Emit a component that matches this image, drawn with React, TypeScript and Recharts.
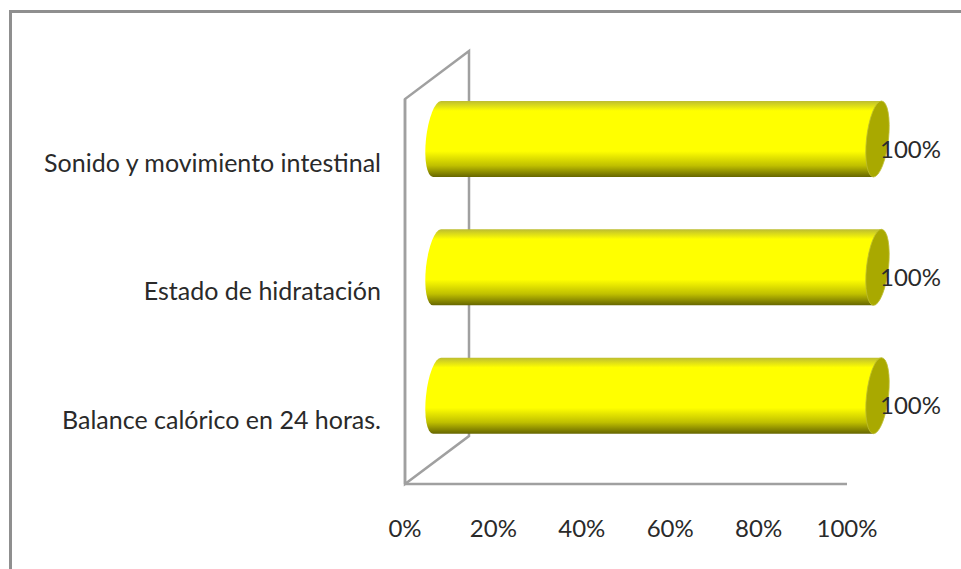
import React from "react";
import { BarChart, Bar, XAxis, YAxis, ReferenceArea } from "recharts";

const categories = [
  "Sonido y movimiento intestinal",
  "Estado de hidratación",
  "Balance calórico en 24 horas.",
];
const seriesValues = [100, 100, 100];
const xTicks = [0, 20, 40, 60, 80, 100];

const rows = categories.map((name, i) => ({ name, value: seriesValues[i] }));

const FONT = "Lato, 'Open Sans', sans-serif";
const TEXT = "#2a2a2a";
const GREY = "#a0a0a0";
const DEPTH_X = 32;
const DEPTH_Y = -24;
const WALL_X = 64;
const WALL_Y = -48;
const CAP_RX = 11;

const Cylinder = (props: any) => {
  const { x, y, width, height } = props;
  const cy = y + DEPTH_Y + height / 2;
  const ry = height / 2;
  const x1 = x + DEPTH_X;
  const x2 = x + width + DEPTH_X - 1.5;
  const body = `M${x1},${-ry} L${x2},${-ry} L${x2},${ry} L${x1},${ry} A${CAP_RX},${ry} 0 0 1 ${x1},${-ry} Z`;
  return (
    <g transform={`translate(0,${cy}) skewX(-6)`}>
      <path d={body} fill="url(#cylinderShade)" />
      <ellipse cx={x2} cy={0} rx={CAP_RX} ry={ry} fill="#a9a900" stroke="#bdbd30" strokeWidth={0.8} />
    </g>
  );
};

const Wall = (props: any) => {
  const { x, y, height } = props;
  const b = y + height;
  return (
    <path
      d={`M${x},${b} L${x},${y} L${x + WALL_X},${y + WALL_Y} L${x + WALL_X},${b + WALL_Y} Z`}
      fill="none"
      stroke={GREY}
      strokeWidth={2.5}
    />
  );
};

const ValueLabel = (props: any) => {
  const { x, y, width, height, value } = props;
  return (
    <text
      x={x + width + 33}
      y={y + height / 2 - 15}
      dominantBaseline="central"
      fontFamily={FONT}
      fontSize={24}
      fill={TEXT}
    >
      {`${value}%`}
    </text>
  );
};

export default function App() {
  return (
    <div style={{ position: "absolute", left: 0, top: 0, width: 961, height: 569, overflow: "hidden", background: "#fff" }}>
      <div
        style={{
          position: "absolute",
          left: 9,
          top: 10,
          right: 0,
          bottom: 0,
          borderLeft: "3px solid #8f8f8f",
          borderTop: "3px solid #8f8f8f",
        }}
      />
      <div style={{ position: "absolute", left: 0, top: 0 }}>
        <BarChart
          width={961}
          height={569}
          data={rows}
          layout="vertical"
          margin={{ top: 99, right: 114, bottom: 0, left: 0 }}
          barSize={76}
        >
          <defs>
            <linearGradient id="cylinderShade" x1="0" y1="0" x2="0" y2="1">
              <stop offset="0" stopColor="#bdbd30" />
              <stop offset="0.13" stopColor="#ffff00" />
              <stop offset="0.66" stopColor="#ffff00" />
              <stop offset="0.85" stopColor="#c0c000" />
              <stop offset="1" stopColor="#666600" />
            </linearGradient>
          </defs>
          <XAxis
            type="number"
            domain={[0, 100]}
            ticks={xTicks}
            tickFormatter={(v: number) => `${v}%`}
            height={85}
            axisLine={{ stroke: GREY, strokeWidth: 2.5 }}
            tickLine={false}
            tickMargin={30}
            interval={0}
            tick={{ fontFamily: FONT, fontSize: 24, fill: TEXT }}
          />
          <YAxis
            type="category"
            dataKey="name"
            width={405}
            axisLine={{ stroke: GREY, strokeWidth: 2.5 }}
            tickLine={false}
            tickMargin={18}
            interval={0}
            tick={{ fontFamily: FONT, fontSize: 25, fill: TEXT }}
          />
          <ReferenceArea x1={0} x2={100} shape={Wall} ifOverflow="visible" />
          <Bar
            dataKey="value"
            isAnimationActive={false}
            shape={Cylinder}
            label={ValueLabel}
          />
        </BarChart>
      </div>
    </div>
  );
}
